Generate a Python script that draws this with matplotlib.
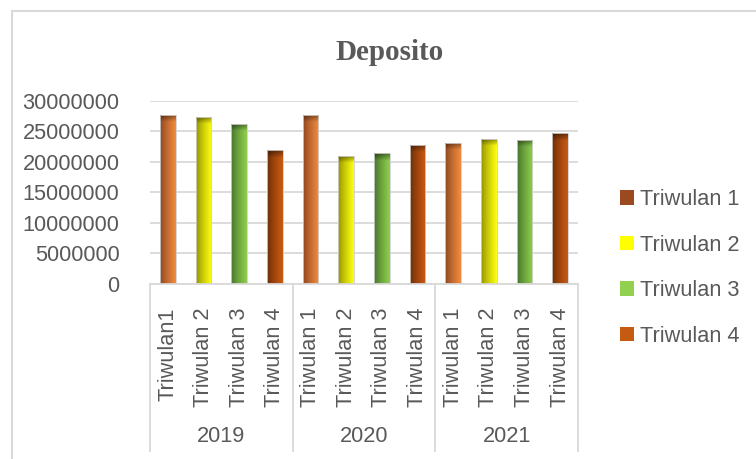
import numpy as np
import matplotlib
matplotlib.use("Agg")
import matplotlib.pyplot as plt
import matplotlib.patches as mpatches
from matplotlib.colors import to_rgb

# ------------------------------------------------------------
# Data
# ------------------------------------------------------------
tahun = ["2019", "2020", "2021"]
triwulan = ["Triwulan1", "Triwulan 2", "Triwulan 3", "Triwulan 4",
            "Triwulan 1", "Triwulan 2", "Triwulan 3", "Triwulan 4",
            "Triwulan 1", "Triwulan 2", "Triwulan 3", "Triwulan 4"]
deposito = [27700000, 27400000, 26200000, 21900000,
            27700000, 20950000, 21400000, 22800000,
            23100000, 23800000, 23600000, 24700000]
legend_labels = ["Triwulan 1", "Triwulan 2", "Triwulan 3", "Triwulan 4"]
legend_colors = ["#9a4a1e", "#ffff00", "#92d050", "#c55a11"]

# gradient (dark kiri -> terang kanan) per posisi triwulan
grad_bar = [("#8a4420", "#f28b3e"),
            ("#8f8f00", "#ffff10"),
            ("#44702a", "#8fcf4e"),
            ("#6a2c08", "#c95a12")]

GRIS_TXT = "#595959"
GRIS_LIN = "#d9d9d9"
FUENTE = "Liberation Sans"
FS = 15.7

fig = plt.figure(figsize=(7.56, 4.59), dpi=100)
ax = fig.add_axes([150 / 756, 1 - 284 / 459, 428 / 756, 183.3 / 459])

x = np.arange(len(deposito))
bars = ax.bar(x, deposito, width=0.43, color="none", edgecolor="#d0d0d0",
              linewidth=0.6, zorder=3)

# relleno con gradiente
for i, b in enumerate(bars):
    dark, light = grad_bar[i % 4]
    d = np.array(to_rgb(dark))
    l = np.array(to_rgb(light))
    h = b.get_height()
    t = np.linspace(0, 1, 40) ** 0.8
    fila = d[None, :] + (l - d)[None, :] * t[:, None]
    ny = 200
    img = np.repeat(fila[None, :, :], ny, axis=0)
    frac = np.linspace(1, 0, ny)  # 1 = arriba
    top = 1.2e6 / h
    sombra = np.clip(1 - (frac - (1 - top)) / top, 0, 1)
    factor = 0.55 + 0.45 * sombra
    img = img * factor[:, None, None]
    im = ax.imshow(img, extent=[b.get_x(), b.get_x() + b.get_width(), 0, h],
                   aspect="auto", origin="upper", zorder=2.5,
                   interpolation="bilinear")
    im.set_clip_path(b)

ax.set_xlim(-0.5, len(deposito) - 0.5)
ax.set_ylim(0, 30000000)
ax.set_yticks(np.arange(0, 30000001, 5000000))
ax.set_yticklabels([f"{v:d}" for v in range(0, 30000001, 5000000)],
                   fontsize=FS, color=GRIS_TXT, family=FUENTE)
ax.yaxis.grid(True, color=GRIS_LIN, linewidth=1.3, zorder=0)
ax.set_axisbelow(True)
ax.tick_params(axis="y", length=0, pad=22)

ax.set_xticks(x)
ax.set_xticklabels(triwulan, rotation=90, fontsize=FS, color=GRIS_TXT,
                   family=FUENTE, va="top")
ax.tick_params(axis="x", length=0, pad=17)

for s in ["top", "right", "left"]:
    ax.spines[s].set_visible(False)
ax.spines["bottom"].set_color(GRIS_LIN)
ax.spines["bottom"].set_linewidth(1.3)

# separadores de grupo y etiquetas de año
trans = ax.get_xaxis_transform()
y_fondo = (284 - 451) / 183.3
for g in range(len(tahun) + 1):
    xs = g * 4 - 0.5
    ax.plot([xs, xs], [0, y_fondo], color=GRIS_LIN, lw=1.3,
            transform=trans, clip_on=False)
for g, yr in enumerate(tahun):
    ax.text(g * 4 + 1.5, (284 - 437) / 183.3, yr, transform=trans,
            ha="center", va="center", fontsize=FS, color=GRIS_TXT,
            family=FUENTE)

# titulo
fig.text(390 / 756, 1 - 52 / 459, "Deposito", ha="center", va="center",
         fontsize=21, fontweight="bold", color=GRIS_TXT,
         family="Liberation Serif")

# leyenda
handles = [mpatches.Patch(facecolor=c, edgecolor="none", label=l)
           for c, l in zip(legend_colors, legend_labels)]
fig.legend(handles=handles, loc="center left",
           bbox_to_anchor=(600 / 756, 1 - 268 / 459), frameon=False,
           prop={"family": FUENTE, "size": FS}, labelcolor=GRIS_TXT,
           handlelength=0.65, handleheight=0.65, handletextpad=0.3,
           labelspacing=1.12)

# borde del grafico
fig.add_artist(mpatches.Rectangle((12 / 756, -0.02), 1.0, 1 - 10.5 / 459 + 0.02,
                                  transform=fig.transFigure, fill=False,
                                  edgecolor=GRIS_LIN, linewidth=1.5))

fig.savefig("out.png", dpi=100, facecolor="white")
